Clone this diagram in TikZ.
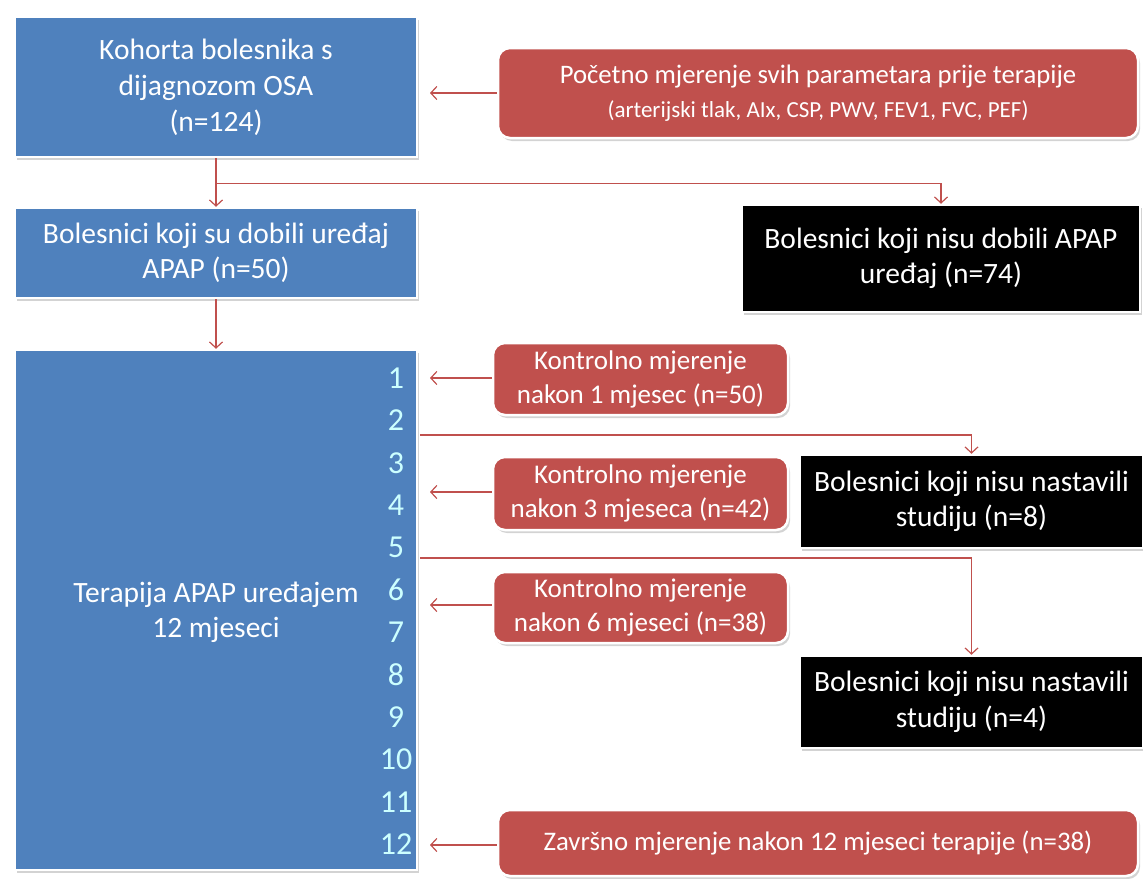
\documentclass[tikz,border=0pt]{standalone}
\usepackage{fontspec}
\setmainfont{Carlito}
\usetikzlibrary{arrows.meta,shadows}
\definecolor{bblue}{HTML}{4F81BD}
\definecolor{rred}{HTML}{C0504D}
\definecolor{numc}{HTML}{CCFFFF}
\begin{document}
\begin{tikzpicture}[x=1pt,y=-1pt,
  base/.style={draw=white,line width=2.5pt,inner sep=0pt,align=center,text=white,
    drop shadow={opacity=0.35,shadow xshift=2pt,shadow yshift=-3pt}},
  bluebox/.style={base,fill=bblue,font=\fontsize{29.5}{35}\selectfont},
  redbox/.style={base,fill=rred,rounded corners=12pt,font=\fontsize{27}{34}\selectfont},
  blackbox/.style={base,fill=black,font=\fontsize{29.5}{35.5}\selectfont},
  num/.style={inner sep=0pt,text=numc,font=\fontsize{32}{34}\selectfont},
  conn/.style={draw=rred,line width=1.2pt,-{Straight Barb[length=6pt,width=13pt]}}]
\useasboundingbox (0,0) rectangle (1143,878);
% blue boxes
\node[bluebox,minimum width=402pt,minimum height=140pt,font=\fontsize{29.5}{36}\selectfont] (A) at (216,87)
  {Kohorta bolesnika s\\dijagnozom OSA\\(n=124)};
\node[bluebox,minimum width=402pt,minimum height=90pt] (C) at (216,253)
  {Bolesnici koji su dobili uređaj\\APAP (n=50)};
\node[bluebox,minimum width=402pt,minimum height=520pt] (E) at (216,610) {};
\node[text=white,font=\fontsize{29.5}{35}\selectfont,align=center] (Et) at (216,612)
  {Terapija APAP uređajem\\12 mjeseci};
% numbers
\foreach \i in {1,...,12}{
  \node[num] (n\i) at (396,{378+42.4*(\i-1)}) {\i};
}
% red boxes
\node[redbox,minimum width=640pt,minimum height=90pt] (B) at (818,93)
  {{\fontsize{26.7}{32}\selectfont Početno mjerenje svih parametara prije terapije}\\{\fontsize{23}{28}\selectfont(arterijski tlak, AIx, CSP, PWV, FEV1, FVC, PEF)}};
\node[redbox,minimum width=295pt,minimum height=72pt] (F1) at (640.5,379)
  {Kontrolno mjerenje\\nakon 1 mjesec (n=50)};
\node[redbox,minimum width=295pt,minimum height=73pt] (F2) at (640.5,493.5)
  {Kontrolno mjerenje\\nakon 3 mjeseca (n=42)};
\node[redbox,minimum width=295pt,minimum height=71pt] (F3) at (640.5,607.5)
  {Kontrolno mjerenje\\nakon 6 mjeseci (n=38)};
\node[redbox,minimum width=640pt,minimum height=66pt,font=\fontsize{26.8}{32}\selectfont] (F4) at (818,843)
  {Završno mjerenje nakon 12 mjeseci terapije (n=38)};
% black boxes
\node[blackbox,minimum width=398pt,minimum height=107pt] (D) at (941,258.5)
  {Bolesnici koji nisu dobili APAP\\uređaj (n=74)};
\node[blackbox,minimum width=343pt,minimum height=93pt] (G1) at (971.5,501.5)
  {Bolesnici koji nisu nastavili\\studiju (n=8)};
\node[blackbox,minimum width=343pt,minimum height=92pt] (G2) at (971.5,702)
  {Bolesnici koji nisu nastavili\\studiju (n=4)};
% coordinates for free ends
\coordinate (tA) at (430,93);
\coordinate (t1) at (430,378);
\coordinate (t4) at (430,492);
\coordinate (t6) at (430,605);
\coordinate (t12) at (430,845);
\coordinate (s2) at (420,435);
\coordinate (s5) at (420,558);
% connectors
\draw[conn] (B.west|-tA) -- (tA);
\draw[conn] (F1.west|-t1) -- (t1);
\draw[conn] (F2.west|-t4) -- (t4);
\draw[conn] (F3.west|-t6) -- (t6);
\draw[conn] (F4.west|-t12) -- (t12);
\draw[conn] (A.south) -- (C.north);
\draw[conn] (A.south) ++(0,25) -| (D.north);
\draw[conn] (C.south) -- (E.north);
\draw[conn] (s2) -| (G1.north);
\draw[conn] (s5) -| (G2.north);
\end{tikzpicture}
\end{document}
